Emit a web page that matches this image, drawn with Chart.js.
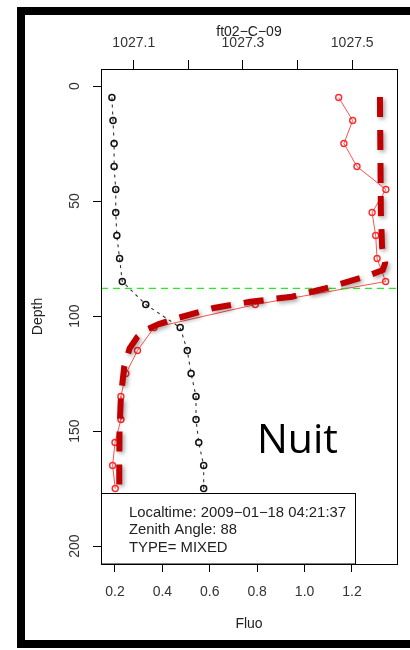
<!DOCTYPE html>
<html>
<head>
<meta charset="utf-8">
<script src="https://cdn.jsdelivr.net/npm/chart.js@4"></script>
<style>
  body { margin: 0; background: #fff; }
  canvas { display: block; }
</style>
</head>
<body>
<canvas id="chart" width="410" height="650"></canvas>
<script>
// density profile (top axis)
var densDepth = [5, 15, 25, 35, 45, 55, 65, 75, 85, 95, 105, 115, 125, 135, 145, 155, 165, 175, 185, 195, 205];
var density = [1027.060, 1027.062, 1027.064, 1027.064, 1027.067, 1027.067, 1027.069, 1027.074, 1027.079, 1027.122,
  1027.185, 1027.198, 1027.205, 1027.214, 1027.214, 1027.219, 1027.228, 1027.228, 1027.242, 1027.256, 1027.262];

// fluorescence profile (bottom axis)
var fluoDepth = [5, 15, 25, 35, 45, 55, 65, 75, 85, 95, 105, 115, 125, 135, 145, 155, 165, 175];
var fluo = [1.144, 1.203, 1.166, 1.221, 1.343, 1.285, 1.300, 1.306, 1.342, 0.792,
  0.365, 0.295, 0.246, 0.225, 0.225, 0.200, 0.190, 0.201];

// fitted fluo curve
var fitDepth = [4.8, 30, 55, 70, 77, 80, 82.5, 88, 91.6, 93.8, 96.5, 100.9, 103.5, 106, 109, 114, 122, 135, 150, 165, 175.7];
var fitFluo = [1.318, 1.320, 1.322, 1.327, 1.340, 1.330, 1.267, 1.087, 0.947, 0.771, 0.616, 0.463, 0.385, 0.330,
  0.295, 0.262, 0.239, 0.225, 0.219, 0.218, 0.218];

var mixedDepth = 88;

var fluoTicks = [0.2, 0.4, 0.6, 0.8, 1.0, 1.2];
var densTicks = [1027.1, 1027.2, 1027.3, 1027.4, 1027.5];
var densTickLabels = ['1027.1', '1027.3', '1027.5'];
var depthTicks = [0, 50, 100, 150, 200];

var fluoRange = [0.141, 1.39];
var densRange = [1027.04, 1027.582];
var depthRange = [-7.4, 207.8];

var chartTitle = 'ft02\u2212C\u221209';
var infoLines = ['Localtime: 2009\u221201\u221218 04:21:37', 'Zenith Angle: 88', 'TYPE= MIXED'];
var noteText = 'Nuit';

function pairs(xs, ys) {
  return xs.map(function (x, i) { return { x: x, y: ys[i] }; });
}

var font = { family: '"Liberation Sans", Arial, sans-serif', size: 14 };
var fontCss = '14px "Liberation Sans", Arial, sans-serif';

var extras = {
  id: 'extras',
  beforeDatasetDraw: function (chart, args) {
    if (args.index === 0) {
      var c = chart.ctx;
      c.save();
      c.shadowColor = 'rgba(0,0,0,0.35)';
      c.shadowBlur = 4;
      c.shadowOffsetX = 2;
      c.shadowOffsetY = 2;
    }
  },
  afterDatasetDraw: function (chart, args) {
    if (args.index === 0) chart.ctx.restore();
  },
  afterDatasetsDraw: function (chart) {
    var c = chart.ctx, a = chart.chartArea, ys = chart.scales.y;
    c.save();
    // info box
    var bx = a.left, by = a.bottom - 71, bw = 254, bh = 71;
    c.fillStyle = '#fff';
    c.fillRect(bx, by, bw, bh);
    c.strokeStyle = '#000';
    c.lineWidth = 1;
    c.strokeRect(bx + 0.5, by + 0.5, bw, bh - 0.5);
    c.fillStyle = '#222';
    c.font = fontCss;
    c.textBaseline = 'middle';
    infoLines.forEach(function (t, i) {
      c.save();
      c.translate(bx + 28, by + 20 + i * 17.5);
      c.scale(1.06, 1);
      c.fillText(t, 0, 0);
      c.restore();
    });
    // plot box
    c.strokeRect(a.left + 0.5, a.top + 0.5, a.right - a.left, a.bottom - a.top);
    // rotated depth tick labels
    c.fillStyle = '#333';
    c.textAlign = 'center';
    depthTicks.forEach(function (v) {
      c.save();
      c.translate(a.left - 26, ys.getPixelForValue(v));
      c.rotate(-Math.PI / 2);
      c.fillText(String(v), 0, 0);
      c.restore();
    });
    // title
    c.fillStyle = '#222';
    c.fillText(chartTitle, (a.left + a.right) / 2, 32);
    // big note
    c.textAlign = 'left';
    c.textBaseline = 'alphabetic';
    c.fillStyle = '#000';
    c.font = '41px "Open Sans", "Noto Sans", sans-serif';
    c.fillText(noteText, 257, 453);
    // outer frame
    c.fillStyle = '#000';
    c.fillRect(17, 7, 393, 8);
    c.fillRect(17, 7, 8, 641);
    c.fillRect(17, 640, 393, 8);
    c.restore();
  }
};

new Chart(document.getElementById('chart'), {
  type: 'scatter',
  data: {
    datasets: [{
      label: 'fit',
      data: pairs(fitFluo, fitDepth),
      xAxisID: 'x',
      showLine: true,
      borderColor: '#c00000',
      borderWidth: 6,
      borderDash: [20, 13],
      borderCapStyle: 'butt',
      pointRadius: 0,
      tension: 0
    }, {
      label: 'mld',
      data: [{ x: fluoRange[0], y: mixedDepth }, { x: fluoRange[1], y: mixedDepth }],
      xAxisID: 'x',
      showLine: true,
      borderColor: '#22ee22',
      borderWidth: 1.3,
      borderDash: [7, 5],
      pointRadius: 0
    }, {
      label: 'fluo',
      data: pairs(fluo, fluoDepth),
      xAxisID: 'x',
      showLine: true,
      borderColor: 'rgba(255,50,50,0.85)',
      borderWidth: 1,
      pointRadius: 3,
      pointBorderWidth: 1.4,
      pointBorderColor: '#ff2a2a',
      pointBackgroundColor: 'rgba(255,255,255,0)'
    }, {
      label: 'density',
      data: pairs(density, densDepth),
      xAxisID: 'x2',
      showLine: true,
      borderColor: '#333',
      borderWidth: 1.1,
      borderDash: [3, 4],
      pointRadius: 3,
      pointBorderWidth: 1.5,
      pointBorderColor: '#111',
      pointBackgroundColor: 'rgba(255,255,255,0)'
    }]
  },
  options: {
    responsive: false,
    animation: false,
    devicePixelRatio: 1,
    layout: { padding: { left: 0, right: 13, top: 0, bottom: 0 } },
    plugins: { legend: { display: false }, tooltip: { enabled: false } },
    scales: {
      x: {
        type: 'linear',
        position: 'bottom',
        min: fluoRange[0],
        max: fluoRange[1],
        afterBuildTicks: function (s) { s.ticks = fluoTicks.map(function (v) { return { value: v }; }); },
        afterFit: function (s) { s.height = 86; },
        grid: { drawOnChartArea: false, drawTicks: true, tickLength: 8, color: '#000' },
        border: { display: true, color: '#000' },
        ticks: { color: '#333', font: font, padding: 12, maxRotation: 0,
          callback: function (v) { return Number(v).toFixed(1); } },
        title: { display: true, text: 'Fluo', color: '#222', font: font, padding: { top: 0, bottom: 17 } }
      },
      x2: {
        type: 'linear',
        position: 'top',
        min: densRange[0],
        max: densRange[1],
        afterBuildTicks: function (s) { s.ticks = densTicks.map(function (v) { return { value: v }; }); },
        afterFit: function (s) { s.height = 69; },
        grid: { drawOnChartArea: false, drawTicks: true, tickLength: 9, color: '#000' },
        border: { display: true, color: '#000' },
        ticks: { color: '#333', font: font, padding: 8, maxRotation: 0, autoSkip: false,
          callback: function (v) {
            var s = Number(v).toFixed(1);
            return densTickLabels.indexOf(s) >= 0 ? s : '';
          } }
      },
      y: {
        type: 'linear',
        position: 'left',
        reverse: true,
        min: depthRange[0],
        max: depthRange[1],
        afterBuildTicks: function (s) { s.ticks = depthTicks.map(function (v) { return { value: v }; }); },
        afterFit: function (s) { s.width = 101; },
        grid: { drawOnChartArea: false, drawTicks: true, tickLength: 8, color: '#000' },
        border: { display: true, color: '#000' },
        ticks: { display: false },
        title: { display: true, text: 'Depth', color: '#222', font: font, padding: { top: 30, bottom: 0 } }
      }
    }
  },
  plugins: [extras]
});
</script>
</body>
</html>
